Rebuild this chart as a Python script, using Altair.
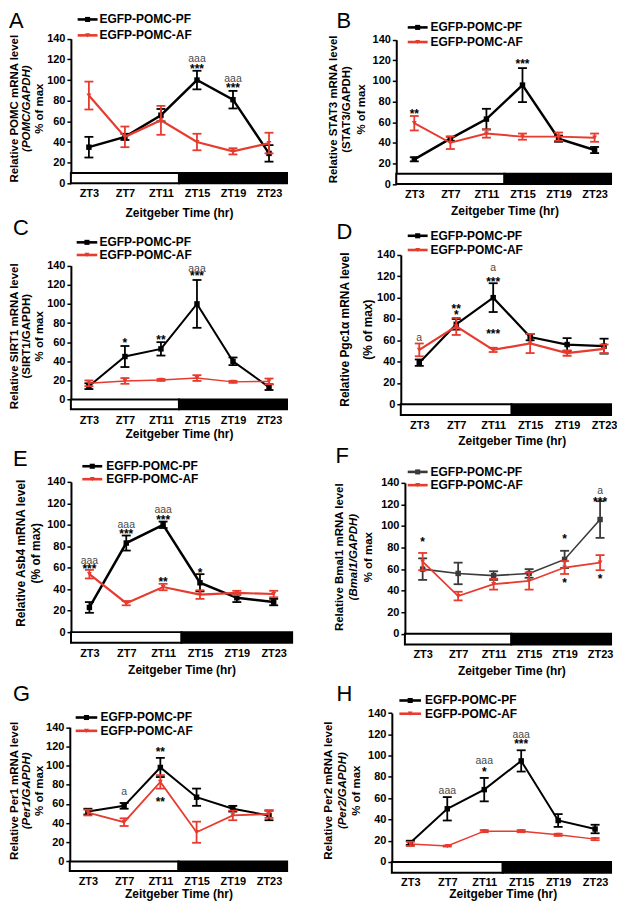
import altair as alt
import pandas as pd

FONT = "Liberation Sans"
RED = "#e63b2e"

ZT = [3, 7, 11, 15, 19, 23]
SERIES = ["EGFP-POMC-PF", "EGFP-POMC-AF"]
PHASE = ["light", "dark"]
PHASE_START = [1, 13]
PHASE_END = [13, 25]
Y_TICKS = [0, 20, 40, 60, 80, 100, 120, 140]

# ---------------- data ----------------
A_PF = [35, 45, 66, 100, 81, 29]
A_PF_ERR = [10, 3, 6, 9, 8.5, 8]
A_AF = [85, 45, 61, 40, 31, 39]
A_AF_ERR = [13.5, 10, 14, 8, 3, 10]
A_ANN_ZT = [15, 15, 19, 19]
A_ANN_Y = [120, 110.5, 101, 92.5]
A_ANN_TXT = ["aaa", "***", "aaa", "***"]

B_PF = [24, 44, 63, 96, 44, 33]
B_PF_ERR = [2, 2, 10, 16.5, 3, 3]
B_AF = [59, 40, 49, 46, 46, 45]
B_AF_ERR = [7, 6, 4, 3, 4, 4]
B_ANN_ZT = [3, 15]
B_ANN_Y = [68, 116]
B_ANN_TXT = ["**", "***"]

C_PF = [14, 45, 53, 100, 40, 13]
C_PF_ERR = [3, 11, 7, 25, 4, 3]
C_AF = [17, 19.5, 20.5, 22.5, 18.5, 19]
C_AF_ERR = [3, 3, 1, 3, 1, 3]
C_ANN_ZT = [7, 11, 15, 15]
C_ANN_Y = [59.5, 62.5, 136, 129]
C_ANN_TXT = ["*", "**", "aaa", "***"]

D_PF = [39, 75, 100, 63, 56, 54.5]
D_PF_ERR = [3, 5, 13.5, 3, 6, 7]
D_AF = [51, 73, 51, 57, 48, 52]
D_AF_ERR = [6, 8, 2, 9, 2.5, 4]
D_ANN_ZT = [3, 7, 7, 11, 11, 11]
D_ANN_Y = [62, 89.5, 84, 127.5, 115, 65.5]
D_ANN_TXT = ["a", "**", "*", "a", "***", "***"]

E_PF = [23, 83, 100, 46, 32, 28]
E_PF_ERR = [5, 7, 3, 8, 4, 3]
E_AF = [54, 27, 42, 35, 36.5, 35.5]
E_AF_ERR = [4, 2, 3, 4, 2, 3]
E_ANN_ZT = [3, 3, 7, 7, 11, 11, 15, 11]
E_ANN_Y = [66.5, 59, 100, 91.5, 113.5, 104.5, 55, 46.5]
E_ANN_TXT = ["aaa", "***", "aaa", "***", "aaa", "***", "*", "**"]

F_PF = [60, 56, 54, 56, 69, 106]
F_PF_ERR = [10, 10, 4, 4, 8, 17]
F_AF = [67, 35, 46, 49, 61.5, 66]
F_AF_ERR = [8, 4, 5, 8, 6, 7]
F_ANN_ZT = [3, 19, 19, 23, 23, 23]
F_ANN_Y = [85.5, 88, 47, 132.5, 122.5, 51]
F_ANN_TXT = ["*", "*", "*", "a", "***", "*"]

G_PF = [52, 58, 98, 67, 55, 48]
G_PF_ERR = [3, 3, 10, 9, 3, 5]
G_AF = [51, 41, 83, 30.5, 48, 49.5]
G_AF_ERR = [3, 4, 7, 11, 5, 4]
G_ANN_ZT = [7, 11, 11]
G_ANN_Y = [72, 114, 62]
G_ANN_TXT = ["a", "**", "**"]

H_PF = [18, 50, 68, 95, 39, 31]
H_PF_ERR = [2, 11, 11, 10, 6, 4]
H_AF = [17, 15, 29, 29, 25.5, 21.5]
H_AF_ERR = [2, 0.5, 1, 1, 1, 1]
H_ANN_ZT = [7, 11, 11, 15, 15]
H_ANN_Y = [66.5, 95, 85, 119, 110.5]
H_ANN_TXT = ["aaa", "aaa", "*", "aaa", "***"]

YTITLES = {
    "A": (["Relative POMC mRNA level", "(POMC/GAPDH)", "% of max"], [False, True, False]),
    "B": (["Relative STAT3 mRNA level", "(STAT3/GAPDH)", "% of max"], [False, False, False]),
    "C": (["Relative SIRT1 mRNA level", "(SIRT1/GAPDH)", "% of max"], [False, False, False]),
    "D": (["Relative Pgc1\u03b1 mRNA level", "(% of max)"], [False, False]),
    "E": (["Relative Asb4 mRNA level", "(% of max)"], [False, False]),
    "F": (["Relative Bmal1 mRNA level", "(Bmal1/GAPDH)", "% of max"], [False, True, False]),
    "G": (["Relative Per1 mRNA level", "(Per1/GAPDH)", "% of max"], [False, True, False]),
    "H": (["Relative Per2 mRNA level", "(Per2/GAPDH)", "% of max"], [False, True, False]),
}

DATA = {
    "A": (A_PF, A_PF_ERR, A_AF, A_AF_ERR, A_ANN_ZT, A_ANN_Y, A_ANN_TXT),
    "B": (B_PF, B_PF_ERR, B_AF, B_AF_ERR, B_ANN_ZT, B_ANN_Y, B_ANN_TXT),
    "C": (C_PF, C_PF_ERR, C_AF, C_AF_ERR, C_ANN_ZT, C_ANN_Y, C_ANN_TXT),
    "D": (D_PF, D_PF_ERR, D_AF, D_AF_ERR, D_ANN_ZT, D_ANN_Y, D_ANN_TXT),
    "E": (E_PF, E_PF_ERR, E_AF, E_AF_ERR, E_ANN_ZT, E_ANN_Y, E_ANN_TXT),
    "F": (F_PF, F_PF_ERR, F_AF, F_AF_ERR, F_ANN_ZT, F_ANN_Y, F_ANN_TXT),
    "G": (G_PF, G_PF_ERR, G_AF, G_AF_ERR, G_ANN_ZT, G_ANN_Y, G_ANN_TXT),
    "H": (H_PF, H_PF_ERR, H_AF, H_AF_ERR, H_ANN_ZT, H_ANN_Y, H_ANN_TXT),
}

# ---------------- layout (page pixel coordinates) ----------------
LAYOUT = {
    "A": dict(col=0, row=0, x3=88.3, x23=269.3, y0=181.0, y140=35.7, lo=0, lab_y=191.7, tit_y=210.0,
              letter=(5, 3.4), leg=(77, 97, 99, 16.3, 32.3), yt_x=[14, 26.5, 39], yt_y=106, yt_fs=11.5,
              pf_col="black", pf_w=2.4, af_w=2.2),
    "B": dict(col=1, row=0, x3=415.3, x23=596.5, y0=181.7, y140=36.7, lo=0, lab_y=192.7, tit_y=208.3,
              letter=(337, 4.4), leg=(408.7, 428.7, 431.7, 24.3, 39), yt_x=[334.5, 348, 362.9], yt_y=106.7,
              yt_fs=11.5, pf_col="black", pf_w=2.5, af_w=2.0),
    "C": dict(col=0, row=1, x3=88.3, x23=269.3, y0=398.3, y140=263.7, lo=-10, lab_y=419.7, tit_y=432.0,
              letter=(12, 216.4), leg=(76, 96.7, 99, 240.3, 253), yt_x=[14, 26.5, 39], yt_y=334.7, yt_fs=11.5,
              pf_col="black", pf_w=2.0, af_w=1.5),
    "D": dict(col=1, row=1, x3=420.3, x23=606, y0=403, y140=253, lo=-10, lab_y=424.7, tit_y=439.7,
              letter=(337, 220.4), leg=(408.7, 428.7, 431.7, 233.7, 248), yt_x=[345.3, 369], yt_y=328,
              yt_fs=12, pf_col="black", pf_w=2.2, af_w=2.2),
    "E": dict(col=0, row=2, x3=88.8, x23=274, y0=632, y140=481, lo=-10, lab_y=653.3, tit_y=669.3,
              letter=(12, 448.4), leg=(81.7, 101.7, 105.7, 465.3, 478.3), yt_x=[20, 35], yt_y=552.7,
              yt_fs=12, pf_col="black", pf_w=2.5, af_w=2.2),
    "F": dict(col=1, row=2, x3=423.7, x23=602, y0=633.7, y140=482, lo=-10, lab_y=654.3, tit_y=671,
              letter=(336, 445.4), leg=(408.7, 428.7, 431.7, 471, 484.3), yt_x=[340.3, 355, 370], yt_y=556.7,
              yt_fs=11.5, pf_col="#3a3a3a", pf_w=1.6, af_w=1.8),
    "G": dict(col=0, row=3, x3=87.3, x23=269.3, y0=862.5, y140=727.5, lo=-10, lab_y=882.5, tit_y=894.5,
              letter=(12, 684), leg=(75, 96.7, 100, 717.8, 731.2), yt_x=[14, 26.5, 39], yt_y=791.5,
              yt_fs=11.5, pf_col="black", pf_w=2.0, af_w=1.8),
    "H": dict(col=1, row=3, x3=411.3, x23=597, y0=863, y140=713.3, lo=-10, lab_y=883.5, tit_y=894.5,
              letter=(337, 684), leg=(400.3, 422, 426, 700.7, 714), yt_x=[329.5, 344, 358], yt_y=791.3,
              yt_fs=11.5, pf_col="black", pf_w=2.0, af_w=1.5),
}

CELL_W = 303
CELL_H = 223
COL_X = [8, 8 + CELL_W]
ROW_Y = [8 + i * CELL_H for i in range(4)]

ONE = pd.DataFrame({"k": [0]})


def series_df(vals, errs):
    return pd.DataFrame({
        "zt": ZT,
        "value": vals,
        "lo": [v - e for v, e in zip(vals, errs)],
        "hi": [v + e for v, e in zip(vals, errs)],
    })


def panel(key):
    L = LAYOUT[key]
    pf, pf_err, af, af_err, ann_zt, ann_y, ann_txt = DATA[key]
    ox, oy = COL_X[L["col"]], ROW_Y[L["row"]]
    cw, ch = CELL_W, CELL_H
    s = (L["x23"] - L["x3"]) / 20.0
    x1 = L["x3"] - 2 * s - ox
    x25 = L["x23"] + 2 * s - ox
    lo = L["lo"]

    def ypix(v):
        return L["y0"] + (L["y140"] - L["y0"]) * v / 140.0 - oy

    ybot, ytop = ypix(lo), ypix(140)

    xscale = alt.Scale(domain=[1, 25], range=[x1, x25], nice=False, zero=False)
    yscale = alt.Scale(domain=[lo, 140], range=[ybot, ytop], nice=False, zero=False)
    xaxis = alt.Axis(
        values=ZT, labelExpr="'ZT' + datum.value", offset=ybot - ch, domain=False, ticks=False,
        tickSize=0, grid=False, labelFont=FONT, labelFontSize=11, labelFontWeight="bold",
        labelColor="black", labelBaseline="middle", labelPadding=L["lab_y"] - oy - ybot,
        labelFlush=False, labelOverlap=False, title="Zeitgeber Time (hr)", titleFont=FONT,
        titleFontSize=12, titleFontWeight="bold", titleColor="black", titleBaseline="middle",
        titleY=L["tit_y"] - oy - ybot,
    )
    yaxis = alt.Axis(
        values=Y_TICKS, offset=-x1, grid=False, domainColor="black", domainWidth=2,
        tickColor="black", tickWidth=1.5, tickSize=4, labelFont=FONT, labelFontSize=11,
        labelFontWeight="bold", labelColor="black", labelPadding=2, labelFlush=False,
        labelOverlap=False, title=None,
    )

    def X(f):
        return alt.X(f, scale=xscale, axis=xaxis)

    def Y(f):
        return alt.Y(f, scale=yscale, axis=yaxis)

    layers = []
    bar_lo, bar_hi = (0, 10) if lo == 0 else (-10, 0)
    phase_df = pd.DataFrame({"phase": PHASE, "start": PHASE_START, "end": PHASE_END,
                             "b0": [bar_lo] * 2, "b1": [bar_hi] * 2})
    layers.append(
        alt.Chart(phase_df).mark_rect(stroke="black", strokeWidth=2, clip=True).encode(
            x=X("start:Q"), x2="end:Q", y=Y("b0:Q"), y2="b1:Q",
            fill=alt.Fill("phase:N", scale=alt.Scale(domain=PHASE, range=["white", "black"]), legend=None),
        )
    )

    specs = [
        (series_df(pf, pf_err), L["pf_col"], L["pf_w"], "square", 30),
        (series_df(af, af_err), RED, L["af_w"], "triangle-down", 24),
    ]
    for df, col, w, shape, size in specs:
        layers.append(alt.Chart(df).mark_line(color=col, strokeWidth=w).encode(x=X("zt:Q"), y=Y("value:Q")))
        layers.append(alt.Chart(df).mark_rule(color=col, strokeWidth=1.8).encode(
            x=X("zt:Q"), y=Y("lo:Q"), y2="hi:Q"))
        for f in ["lo:Q", "hi:Q"]:
            layers.append(alt.Chart(df).mark_tick(color=col, orient="horizontal", size=9, thickness=1.8,
                                                  opacity=1).encode(x=X("zt:Q"), y=Y(f)))
        layers.append(alt.Chart(df).mark_point(shape=shape, filled=True, size=size, color=col,
                                               opacity=1).encode(x=X("zt:Q"), y=Y("value:Q")))

    ann = pd.DataFrame({"zt": ann_zt, "y": ann_y, "t": ann_txt})
    stars = ann[~ann["t"].str.contains("a")]
    letters = ann[ann["t"].str.contains("a")]
    if len(stars):
        layers.append(alt.Chart(stars).mark_text(font=FONT, fontSize=12, fontWeight="bold", color="black",
                                                 baseline="middle").encode(x=X("zt:Q"), y=Y("y:Q"), text="t:N"))
    if len(letters):
        layers.append(alt.Chart(letters).mark_text(font=FONT, fontSize=10.5, fontWeight="normal",
                                                   color="#4a4a4a", baseline="middle").encode(
            x=X("zt:Q"), y=Y("y:Q"), text="t:N"))

    # legend
    lx1, lx2, tx, ypf, yaf = L["leg"]
    for name, yy, col, shape, size in [(SERIES[0], ypf, L["pf_col"], "square", 26),
                                       (SERIES[1], yaf, RED, "triangle-down", 24)]:
        layers.append(alt.Chart(ONE).mark_rule(color=col, strokeWidth=2.6).encode(
            x=alt.value(lx1 - ox), x2=alt.value(lx2 - ox), y=alt.value(yy - oy)))
        layers.append(alt.Chart(ONE).mark_point(shape=shape, filled=True, size=size, color=col, opacity=1).encode(
            x=alt.value((lx1 + lx2) / 2 - ox), y=alt.value(yy - oy)))
        layers.append(alt.Chart(ONE).mark_text(text=name, font=FONT, fontSize=12, fontWeight="bold",
                                               color="black", align="left", baseline="middle").encode(
            x=alt.value(tx - ox), y=alt.value(yy - oy)))

    # y title lines
    lines, ital = YTITLES[key]
    for line, it, xx in zip(lines, ital, L["yt_x"]):
        layers.append(alt.Chart(ONE).mark_text(text=line, font=FONT, fontSize=L["yt_fs"], fontWeight="bold",
                                               fontStyle="italic" if it else "normal", color="black",
                                               angle=270, align="center", baseline="middle").encode(
            x=alt.value(xx - ox), y=alt.value(L["yt_y"] - oy)))

    # panel letter
    lx, ly = L["letter"]
    layers.append(alt.Chart(ONE).mark_text(text=key, font=FONT, fontSize=22, fontWeight="normal",
                                           color="black", align="left", baseline="top").encode(
        x=alt.value(max(lx - ox, 0)), y=alt.value(max(ly - oy, 0) if L["row"] == 0 else ly - oy)))

    return alt.layer(*layers).properties(width=cw, height=ch)


panels = [panel(k) for k in ["A", "B", "C", "D", "E", "F", "G", "H"]]

chart = alt.concat(*panels, columns=2, spacing=0, bounds="flush").properties(
    padding=0, background="white"
).configure_view(strokeWidth=0)

chart.save("out.html", embed_options={"renderer": "svg", "actions": False})
